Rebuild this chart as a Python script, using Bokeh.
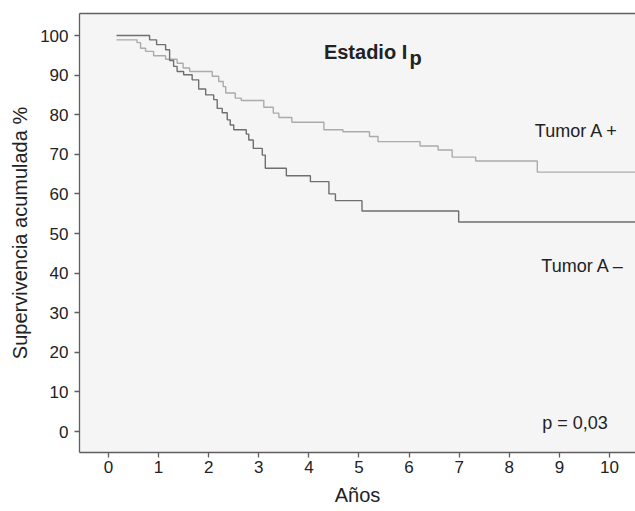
from bokeh.plotting import figure
from bokeh.models import Range1d, LinearAxis, FixedTicker, Label
from bokeh.embed import file_html
from bokeh.resources import INLINE

# ---- data ----
years_ticks = [0, 1, 2, 3, 4, 5, 6, 7, 8, 9, 10]
surv_ticks = [0, 10, 20, 30, 40, 50, 60, 70, 80, 90, 100]

# Tumor A - (dark curve)
neg_t = [0.16, 0.82, 0.96, 1.14, 1.22, 1.30, 1.37, 1.50, 1.67, 1.80, 1.94, 2.10, 2.17, 2.27,
         2.37, 2.43, 2.50, 2.75, 2.80, 2.89, 3.07, 3.13, 3.55, 4.03, 4.40, 4.53, 5.06, 6.99, 10.6]
neg_s = [100, 98.9, 97.7, 96.4, 93.7, 92.2, 90.9, 90.1, 88.8, 86.5, 85.0, 83.8, 81.6, 80.5,
         78.7, 77.4, 76.2, 75.1, 73.6, 71.5, 69.8, 66.5, 64.6, 63.1, 60.0, 58.3, 55.7, 52.9, 52.9]

# Tumor A + (light curve)
pos_t = [0.16, 0.57, 0.64, 0.74, 0.90, 1.14, 1.37, 1.49, 1.62, 2.07, 2.20, 2.29, 2.34, 2.53,
         2.65, 3.10, 3.29, 3.40, 3.66, 4.30, 4.68, 5.21, 5.38, 6.22, 6.58, 6.86, 7.33, 8.56, 10.6]
pos_s = [98.9, 98.2, 96.8, 96.0, 94.9, 94.0, 93.0, 91.8, 90.9, 89.7, 88.4, 87.1, 85.5, 84.2,
         83.6, 81.9, 80.4, 79.3, 78.1, 76.2, 75.7, 74.5, 73.2, 72.1, 71.1, 69.3, 68.3, 65.5, 65.5]

FONT = "Liberation Sans"
AXC = "#5f5f5f"
TXT = "#222222"

p = figure(width=635, height=511,
           x_range=Range1d(-0.579, 10.52), y_range=Range1d(-5.3, 105.56),
           output_backend="svg", toolbar_location=None,
           min_border_left=79, min_border_right=0, min_border_top=13, min_border_bottom=59)

p.background_fill_color = "#f5f5f5"
p.border_fill_color = "white"
p.outline_line_color = None
p.xgrid.visible = False
p.ygrid.visible = False

for ax in (p.xaxis[0], p.yaxis[0]):
    ax.axis_line_color = AXC
    ax.axis_line_width = 1.3
    ax.major_tick_line_color = AXC
    ax.major_tick_line_width = 1.3
    ax.major_tick_out = 5
    ax.major_tick_in = 0
    ax.minor_tick_line_color = None
    ax.major_label_text_font = FONT
    ax.major_label_text_font_size = "17px"
    ax.major_label_text_color = TXT
    ax.axis_label_text_font = FONT
    ax.axis_label_text_font_size = "20px"
    ax.axis_label_text_font_style = "normal"
    ax.axis_label_text_color = TXT

p.xaxis[0].ticker = FixedTicker(ticks=years_ticks)
p.yaxis[0].ticker = FixedTicker(ticks=surv_ticks)
p.xaxis[0].axis_label = "Años"
p.yaxis[0].axis_label = "Supervivencia acumulada %"
p.xaxis[0].major_label_standoff = 3
p.xaxis[0].axis_label_standoff = 8
p.yaxis[0].major_label_standoff = 6
p.yaxis[0].axis_label_standoff = 6

top = LinearAxis(ticker=FixedTicker(ticks=[]), axis_line_color=AXC, axis_line_width=1.3,
                 major_tick_out=0, major_tick_in=0, minor_tick_out=0, minor_tick_in=0,
                 major_label_text_font_size="0px", major_label_standoff=0, axis_label_standoff=0)
p.add_layout(top, "above")

p.step(pos_t, pos_s, mode="after", line_color="#ababab", line_width=1.4)
p.step(neg_t, neg_s, mode="after", line_color="#6f6f6f", line_width=1.4)

p.add_layout(Label(x=4.30, y=95.8, text="Estadio I", text_font=FONT, text_font_size="20px",
                   text_font_style="bold", text_color=TXT, text_baseline="alphabetic"))
p.add_layout(Label(x=6.01, y=94.2, text="p", text_font=FONT, text_font_size="20px",
                   text_font_style="bold", text_color=TXT, text_baseline="alphabetic"))
p.add_layout(Label(x=8.51, y=75.8, text="Tumor A +", text_font=FONT, text_font_size="18px",
                   text_color=TXT, text_baseline="alphabetic"))
p.add_layout(Label(x=8.64, y=41.7, text="Tumor A \u2013", text_font=FONT, text_font_size="18px",
                   text_color=TXT, text_baseline="alphabetic"))
p.add_layout(Label(x=8.66, y=2.1, text="p = 0,03", text_font=FONT, text_font_size="18px",
                   text_color=TXT, text_baseline="alphabetic"))

open("out.html", "w").write(file_html(p, INLINE))
